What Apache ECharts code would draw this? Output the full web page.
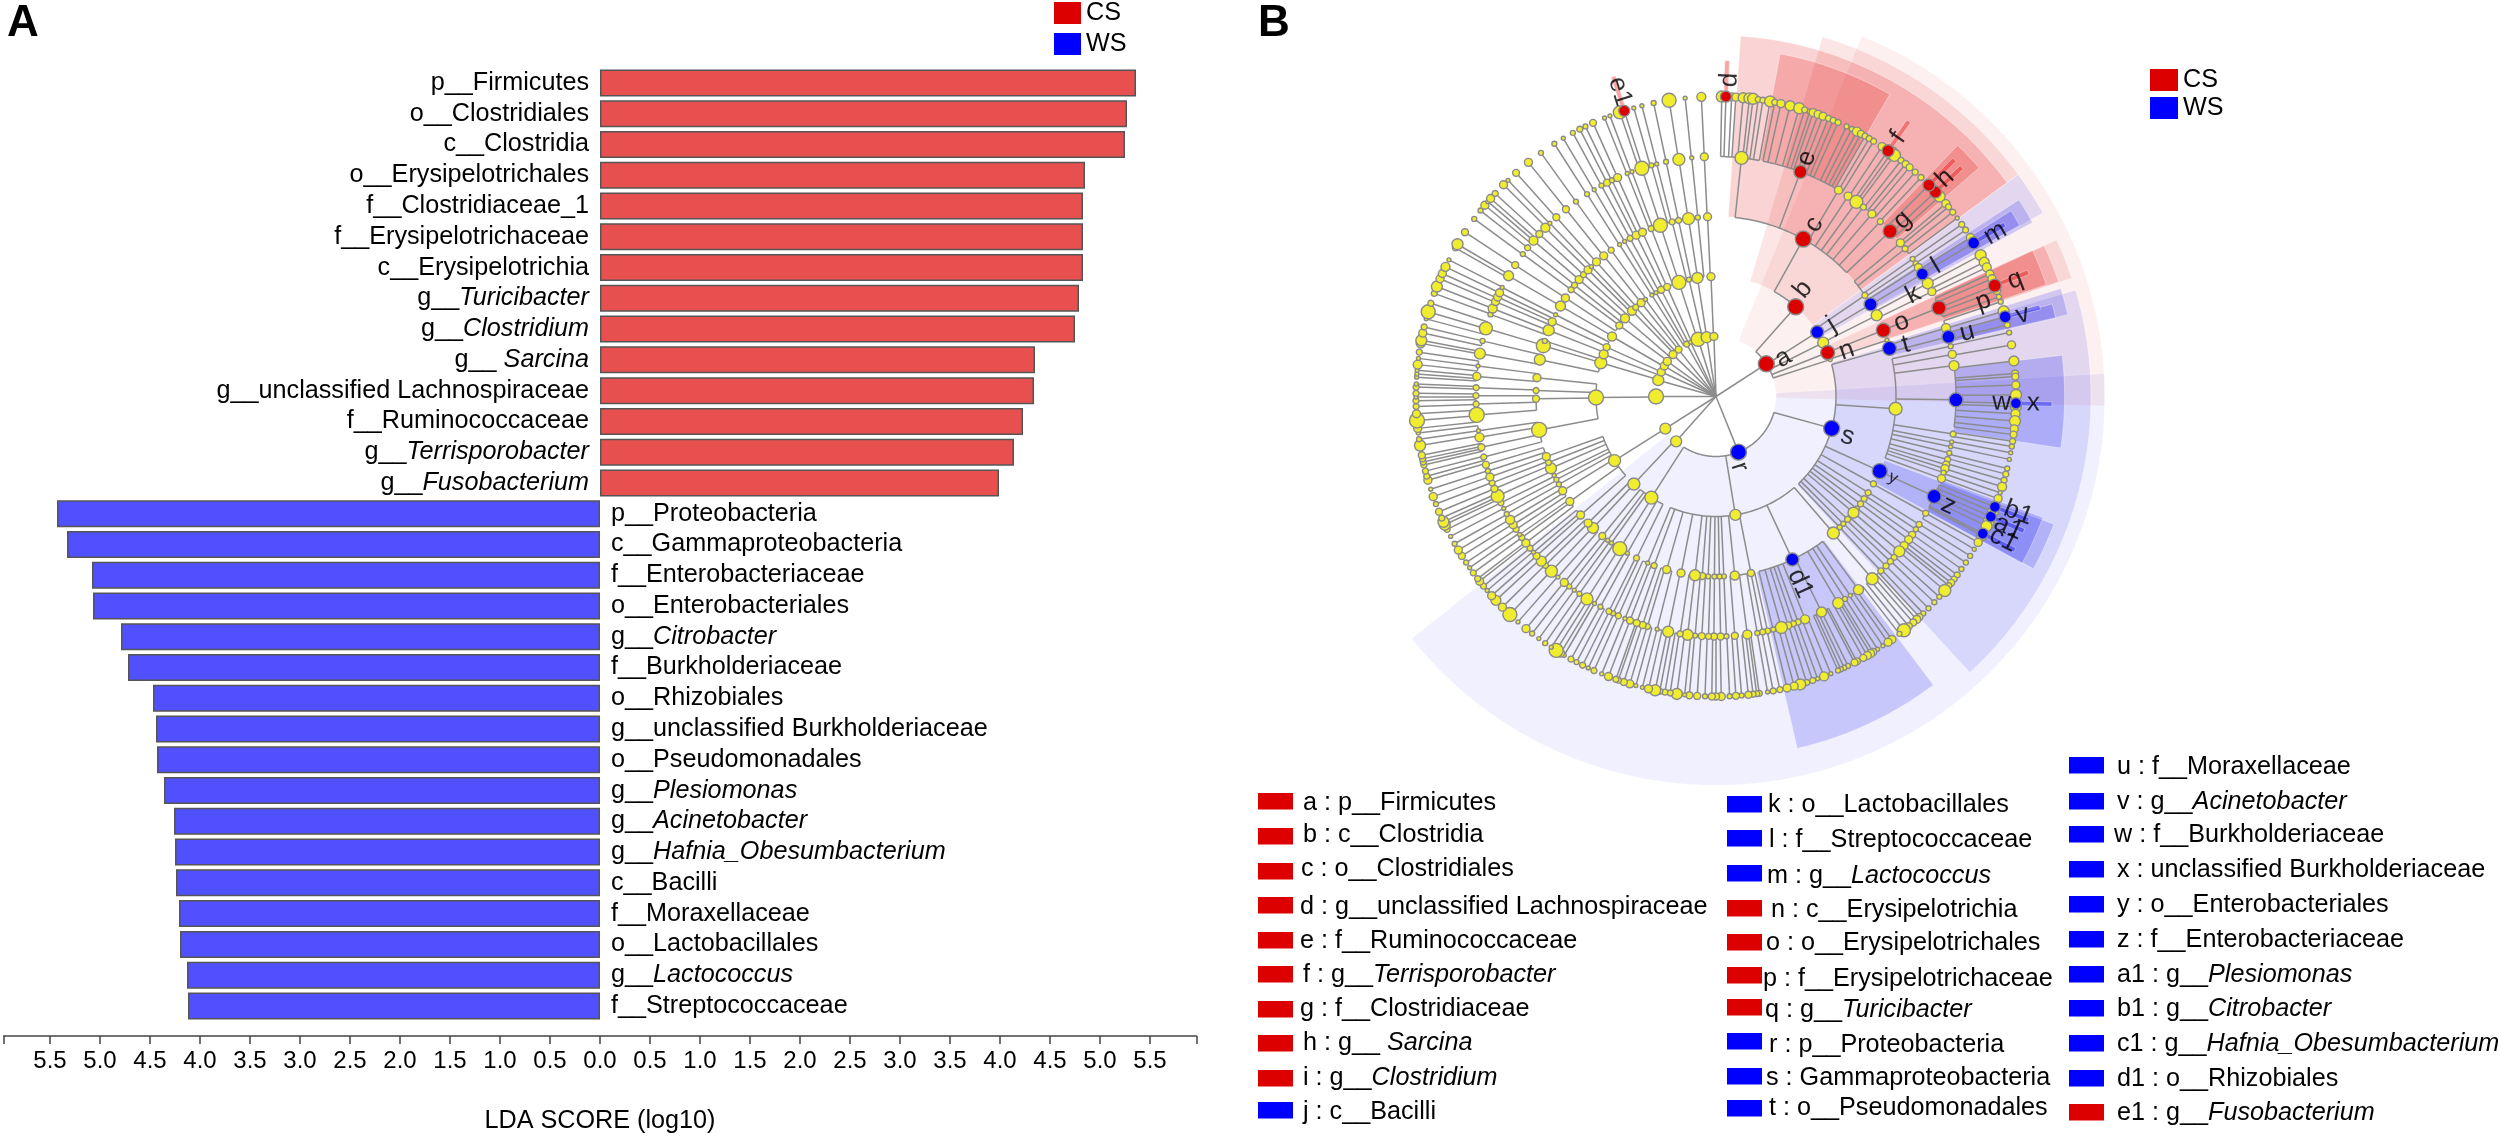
<!DOCTYPE html>
<html><head><meta charset="utf-8">
<style>html,body{margin:0;padding:0;background:#fff}#c{width:2500px;height:1139px}</style>
<script src="https://cdn.jsdelivr.net/npm/echarts@6/dist/echarts.min.js"></script>
</head><body><div id="c"></div>
<script>
// ---------- Panel A data ("|" starts the italic part of a name)
const csNames=['p__Firmicutes','o__Clostridiales','c__Clostridia','o__Erysipelotrichales','f__Clostridiaceae_1','f__Erysipelotrichaceae','c__Erysipelotrichia','g__|Turicibacter','g__|Clostridium','g__ |Sarcina','g__unclassified Lachnospiraceae','f__Ruminococcaceae','g__|Terrisporobacter','g__|Fusobacterium'];
const csValues=[5.36,5.27,5.25,4.85,4.83,4.83,4.83,4.79,4.75,4.35,4.34,4.23,4.14,3.99];
const wsNames=['p__Proteobacteria','c__Gammaproteobacteria','f__Enterobacteriaceae','o__Enterobacteriales','g__|Citrobacter','f__Burkholderiaceae','o__Rhizobiales','g__unclassified Burkholderiaceae','o__Pseudomonadales','g__|Plesiomonas','g__|Acinetobacter','g__|Hafnia_Obesumbacterium','c__Bacilli','f__Moraxellaceae','o__Lactobacillales','g__|Lactococcus','f__Streptococcaceae'];
const wsValues=[5.43,5.33,5.08,5.07,4.79,4.72,4.47,4.44,4.43,4.36,4.26,4.25,4.24,4.21,4.2,4.13,4.12];
const tickLabels=[-5.5,-5,-4.5,-4,-3.5,-3,-2.5,-2,-1.5,-1,-0.5,0,0.5,1,1.5,2,2.5,3,3.5,4,4.5,5,5.5];

// ---------- Panel B: yellow nodes per ring: [angle, size, optional child span from, to]
const ring1=[[221.6,11,222,224],[237.6,11,225,255],[270,15,256,279],[285.8,11],[294.1,8],[300.5,8],[305.8,8],[314.3,8],[321.4,7],[330.7,6],[335,4],[342.7,14],[351,11],[358,8]];
const ring2=[[63.3,11],[72.1,4],[170.7,11,140,203],[212.6,13,205,221],[223.2,12,222,227],[237.7,12,228,251],[269.5,15,258,278],[286.3,12],[290.6,9],[294.3,7],[300,9],[306.3,7],[310.7,9],[315.6,9],[318,6],[321.4,8],[324,4],[327.7,4],[330,4],[332.8,7],[336,7],[342,14],[347,5],[351.1,11],[357.6,8]];
const ring3=[[55.8,6,50,57],[63.2,11],[71.8,4],[93.9,13,77,110],[119,6],[122.3,6],[124.6,6],[126.6,6],[128.5,5],[130.2,11],[133,6],[135,5],[136.6,5],[139.3,12],[168.8,7,167.5,173],[174,9],[177.5,5],[178.9,5],[180.5,5],[182.5,5],[184.4,7],[186.7,11],[191.2,8],[195.9,8],[200.1,6],[202.3,4],[206.2,6],[209.5,4],[212.3,14],[215.5,4],[217,4],[219.2,7],[223.1,11],[225.3,8],[228.8,8],[234.3,8],[238.4,8],[240.8,5],[242.5,5],[244,4],[246.5,11],[248.5,6],[250.5,8],[259.3,15],[269.3,7],[271.9,6],[276,8],[281.8,11],[286.4,14],[288,5],[291.6,11],[294.5,8],[297,4],[300.2,10],[303.2,8],[306.4,6],[308.2,6],[310.5,8],[312.6,6],[314.7,8],[316.2,4],[318.4,8],[321.4,8],[324.4,6],[327.6,4],[329.5,4],[331.5,6],[333.7,8],[335.9,8],[338.9,6],[342,14],[345.9,6],[348,6],[351.2,12],[354.2,5],[357.3,8]];
const ring4=[[6.1,13,0.5,10.5],[30.7,8],[33.4,8],[35.8,13],[37.9,6],[40.5,8],[43.2,6],[50.2,8],[52,6],[55,5],[56.3,5],[57.5,8],[61.9,11],[64.1,8],[73.4,9,72,74.2],[77.9,5],[79.9,8],[82.6,10],[99,6],[100.9,4],[102.1,4],[103.6,5],[105.2,6],[106.5,7],[107.5,8],[108.5,5],[110,8],[119.1,6],[122.2,6],[123.6,5],[125.2,7],[126.6,8],[128.4,8],[130.2,11],[132.1,6],[133.4,6],[134.9,6],[136.6,6],[139.4,12],[143.6,10],[146,4],[147.5,5],[149.4,11],[153.9,10],[158.2,9],[160,6],[161.2,6],[162.5,7],[164.2,12],[166.2,5],[167.6,6],[168.8,6],[170.1,5],[172.5,9],[175.5,7],[177.5,5],[178.9,7],[180.5,7],[181.8,6],[183.4,7],[185,5],[186.8,11],[188.6,6],[191.5,11],[194.2,4],[196.6,6],[197.8,7],[199.3,7],[201,7],[202.3,4],[204,6],[205.4,5],[206.5,6],[208.8,5],[210.4,4],[212.5,12],[214.7,5],[216.2,4],[217.7,5],[219.2,8],[221.2,4],[223.3,12],[225.3,6],[226.7,10],[228.4,7],[229.5,4],[230.8,6],[232.4,8],[234,6],[234.9,4],[236.4,6],[237.7,8],[239.1,9],[240.7,5],[242.2,4],[243.7,6],[245.5,13],[247.4,7],[248.9,6],[250.4,8],[251.9,5],[253.5,7],[255.4,6],[257.8,7],[260.2,9],[261.8,4],[265.6,15],[268.2,6],[270.2,6],[272.1,6],[274.8,8],[277.3,4],[280.3,11],[283.4,5],[286.5,13],[290,5],[291.5,9],[293.3,8],[294.5,8],[295.6,8],[297,4],[300.2,10],[303.2,7],[306.4,5],[308.3,6],[310.5,9],[312.6,7],[314.7,9],[316.2,4],[318.3,7],[321.3,7],[324.3,5],[327.5,5],[329.5,4],[331.5,5],[333,7],[334.3,5],[335.8,8],[338.3,4],[339.5,4],[342,14],[344.4,5],[345.7,4],[348,5],[351.1,12],[354.2,4],[357.2,8]];
const ring5=[[1.1,11],[3,8],[3.8,8],[5.2,10],[6.4,11],[7.1,11],[8.1,6],[9,6],[10.4,11],[11.3,6],[12.5,8],[14.3,10],[16.1,11],[17.2,6],[18.2,5],[18.9,8],[19.9,8],[20.9,8],[22,6],[23,6],[24,6],[25.8,5],[26.9,5],[28,9],[28.9,7],[29.8,6],[30.7,6],[31.7,6],[33.6,8],[35.8,13],[36.5,12],[38.1,6],[39.2,7],[40.2,7],[41.6,6],[43.1,6],[48.2,11],[50,8],[50.8,6],[52.1,6],[53.5,4],[55,6],[56.3,6],[58,8],[61.9,11],[63.4,10],[64.5,9],[65.9,8],[66.9,8],[69.3,8],[70.6,5],[71.6,5],[73.5,11],[76.2,6],[77.7,5],[80.1,8],[83.2,10],[85.6,7],[86.2,7],[87.8,8],[89.7,11],[91.9,11],[93.3,9],[94.7,11],[96.2,8],[97.3,7],[98.6,6],[99.6,5],[100.8,4],[102.1,4],[103.9,5],[105,6],[106.2,6],[107.5,9],[108.7,4],[109.9,8],[112.6,11],[114.6,11],[115.6,11],[117.6,11],[119.1,8],[120.6,4],[122.1,5],[123.6,5],[125.1,5],[126.5,6],[127.5,6],[128.4,7],[129.1,6],[130.3,12],[131.9,5],[133.3,5],[134.9,5],[136.3,5],[137.3,7],[138,8],[138.9,7],[140,7],[141.2,13],[142.3,5],[144.1,8],[145,8],[146.2,4],[147.4,4],[148.4,7],[149,8],[149.7,8],[150.6,7],[152,7],[152.5,7],[153.9,5],[154.7,5],[155.4,5],[156,5],[157.5,4],[158.9,9],[160.2,4],[161.2,6],[162.4,6],[163.7,11],[164.9,8],[166.3,8],[167.7,6],[169,6],[170.1,4],[171.7,6],[172.2,6],[172.9,6],[173.8,7],[175.1,5],[176.2,7],[177.4,5],[179,8],[180,7],[180.8,7],[182.1,5],[183.6,7],[185.1,7],[186,4],[187.5,11],[188.8,6],[189.8,6],[190.8,6],[191.7,11],[193,8],[194.2,4],[195.5,4],[196.7,8],[197.9,7],[199,6],[199.5,6],[201,8],[202.4,4],[204,6],[205.2,4],[206.4,6],[207.7,5],[208.9,6],[210.4,4],[211.2,8],[212.2,14],[213.3,4],[214.7,5],[216.2,4],[217.8,5],[219.3,8],[221.3,4],[223.4,14],[225.4,8],[227.2,10],[228.4,8],[229.7,4],[230.8,6],[232,8],[232.6,6],[234,6],[235.2,4],[236.4,5],[237.9,7],[239.2,8],[240.6,5],[242.2,4],[243.7,6],[244.7,11],[245.3,11],[246.1,6],[247.4,7],[249,5],[250.5,8],[252,4],[253.8,8],[254.6,6],[255.6,6],[256.8,6],[257.4,6],[258,6],[258.7,7],[260.6,11],[261.8,5],[263,4],[263.9,8],[265.4,15],[266.7,8],[268.1,6],[269.2,6],[269.9,4],[270.6,6],[271.8,6],[272.4,4],[273.7,4],[274.3,4],[275,4],[276.1,9],[277.3,4],[278.5,6],[280.2,9],[280.8,11],[282.2,8],[283.4,6],[285,4],[286.4,14],[288.1,6],[290.1,6],[291.5,11],[293.1,8],[294.2,8],[295.6,9],[297.1,4],[299.7,6],[300.5,11],[303.2,7],[306.3,5],[308.3,5],[309.6,8],[310.5,4],[311.3,8],[312.6,6],[314.9,8],[316.1,4],[318.2,7],[321.3,8],[324.3,5],[327.4,5],[329.4,4],[331.5,5],[333,6],[334.2,5],[335.8,7],[338.2,4],[339.3,4],[341.3,13],[344.1,4],[345.7,4],[348,5],[351,14],[354.1,4],[357.2,9]];

// ---------- Panel B: biomarkers
const bioKeys =['a','b','c','d','e','f','g','h','i','j','k','l','m','n','o','p','q','r','s','t','u','v','w','x','y','z','a1','b1','c1','d1','e1'];
const bioClass=['CS','CS','CS','CS','CS','CS','CS','CS','CS','WS','WS','WS','WS','CS','CS','CS','CS','WS','WS','WS','WS','WS','WS','WS','WS','WS','WS','WS','WS','WS','CS'];
const bioRing =[1,2,3,5,4,5,4,5,5,2,3,4,5,2,3,4,5,1,2,3,4,5,4,5,3,4,5,5,5,3,5];
const bioAngle=[57,41.6,29,1.9,20.6,35,46.5,47,45.2,57.5,59.2,59.3,59.2,68.5,68.4,68.3,68.3,158,105.4,74.5,75.6,74.6,90.8,91.3,114.5,114.6,113.6,111.6,117.2,154.9,342.2];
const bioFrom =[22,16.5,3.9,1.5,10.6,34.6,43.9,46.6,44.8,53.7,57,57.8,58.8,65.3,65.3,65.2,67.9,86.6,73.5,72.6,74.6,74.2,83.2,90.9,110.7,110.3,113.2,111.2,116.8,143,341.8];
const bioTo   =[91.4,53.7,53.7,2.3,29.9,35.4,49,47.4,45.6,60.7,61.2,60.6,59.6,71.6,71.5,71.3,68.7,231.5,137.4,76.9,77,75,98.5,91.7,118.5,118.6,114,112,117.6,167,342.6];
const bioSize =[16,16,16,11,13,12,14,12,12,13,13,12,12,14,14,14,13,16,16,14,13,12,14,11,15,14,11,11,11,13,11];
const labelRing =[1.29,2.3,3.3,5.28,4.25,5.28,4.28,5.27,null,2.27,3.7,4.26,5.39,2.31,3.33,4.73,5.35,1.24,2.29,3.28,4.32,5.29,4.76,5.29,3.25,4.28,5.34,5.4,5.35,3.42,5.33];
const labelAngle=[60.3,39.1,29.7,2.4,20.8,35.1,46.6,46.4,null,58.2,62.7,59.4,59.7,70.6,68.2,70.4,68.7,161.7,106.9,74.8,75.7,75.1,91.2,91.2,114.7,115.1,114.1,111.1,116.5,155.8,342.5];

// ---------- Panel B key table
const keyCol1=['a : p__Firmicutes','b : c__Clostridia','c : o__Clostridiales','d : g__unclassified Lachnospiraceae','e : f__Ruminococcaceae','f : g__|Terrisporobacter','g : f__Clostridiaceae','h : g__ |Sarcina','i : g__|Clostridium','j : c__Bacilli'];
const keyCol2=['k : o__Lactobacillales','l : f__Streptococcaceae','m : g__|Lactococcus','n : c__Erysipelotrichia','o : o__Erysipelotrichales','p : f__Erysipelotrichaceae','q : g__|Turicibacter','r : p__Proteobacteria','s : Gammaproteobacteria','t : o__Pseudomonadales'];
const keyCol3=['u : f__Moraxellaceae','v : g__|Acinetobacter','w : f__Burkholderiaceae','x : unclassified Burkholderiaceae','y : o__Enterobacteriales','z : f__Enterobacteriaceae','a1 : g__|Plesiomonas','b1 : g__|Citrobacter','c1 : g__|Hafnia_Obesumbacterium','d1 : o__Rhizobiales','e1 : g__|Fusobacterium'];
const keyClass1=['CS','CS','CS','CS','CS','CS','CS','CS','CS','WS'];
const keyClass2=['WS','WS','WS','CS','CS','CS','CS','WS','WS','WS'];
const keyClass3=['WS','WS','WS','WS','WS','WS','WS','WS','WS','WS','CS'];

// ---------- layout and style (not data)
const FONT='"Liberation Sans",Arial,sans-serif';
const TEXT_SIZE=25.2;
const COLORS={CS:'#DC0000',WS:'#0000FF'};
const layoutCols=[
 {x:1258,tx:[1303,1303,1301,1300,1300,1303,1300,1303,1303,1303],sy:[793,828,863,897,932,966,1001,1035,1070,1102],ty:[803,835,869,907,941,975,1009,1043,1078,1112],keys:keyCol1,cls:keyClass1},
 {x:1727,tx:[1768,1769,1767,1771,1766,1763,1765,1769,1766,1769],sy:[796,830,865,900,934,967,999,1033,1068,1100],ty:[805,840,876,910,943,979,1010,1045,1078,1108],keys:keyCol2,cls:keyClass2},
 {x:2069,tx:[2117,2117,2114,2117,2117,2117,2117,2117,2117,2117,2117],sy:[757,793,826,861,896,931,966,1000,1035,1070,1104],ty:[767,802,835,870,905,940,975,1009,1044,1079,1113],keys:keyCol3,cls:keyClass3}];
const ringOuter={1:6.48,2:6.25,3:6.02,4:5.81,5:5.6};
const ringAlpha={1:.058,2:.1,3:.17,4:.2,5:.35};
const rgb={CS:'225,0,0',WS:'0,0,240'};

function richText(s){const p=s.split('|');return p.length>1?`{n|${p[0]}}{i|${p[1]}}`:`{n|${p[0]}}`;}
const richStyle=size=>({n:{fontFamily:FONT,fontSize:size,color:'#000'},i:{fontFamily:FONT,fontSize:size,fontStyle:'italic',color:'#000'}});

// ---------- bars
const cats=csNames.concat(wsNames);
const csData=cats.map((c,i)=>i<csValues.length?csValues[i]:null);
const wsData=cats.map((c,i)=>i>=csValues.length?-wsValues[i-csValues.length]:null);
const barSeries=(name,data,color,pos,dist)=>({name,type:'bar',xAxisIndex:0,yAxisIndex:0,data,barWidth:27,barGap:'-100%',
 itemStyle:{color,borderColor:'#555',borderWidth:1.5},animation:false,
 label:{show:true,position:pos,distance:dist,rich:richStyle(TEXT_SIZE),formatter:p=>richText(p.name)}});

// ---------- tree
const nodes={1:[],2:[],3:[],4:[],5:[]};
[ring1,ring2,ring3,ring4,ring5].forEach((ring,i)=>ring.forEach(n=>nodes[i+1].push({a:n[0],size:n[1],from:n[2],to:n[3]})));
bioKeys.forEach((k,i)=>nodes[bioRing[i]].push({a:bioAngle[i],size:bioSize[i],from:bioFrom[i],to:bioTo[i],bio:1}));
const cdist=(x,y)=>Math.abs(((x-y+540)%360)-180);
const edges=[],arcs=[];
nodes[1].forEach(n=>edges.push([0,n.a,1,n.a]));
for(let L=2;L<=5;L++){
 const parents=nodes[L-1];
 parents.forEach(p=>{p.lo=0;p.hi=0;});
 nodes[L].forEach(c=>{
  let par=parents.find(p=>!p.bio&&p.from!==undefined&&c.a>=p.from&&c.a<=p.to)
   ||parents.find(p=>p.bio&&c.a>=p.from&&c.a<=p.to);
  if(!par)par=parents.reduce((b,p)=>cdist(p.a,c.a)<cdist(b.a,c.a)?p:b);
  const d=((c.a-par.a+540)%360)-180;
  par.lo=Math.min(par.lo,d);par.hi=Math.max(par.hi,d);
  edges.push([L-1,c.a,L,c.a]);
 });
 parents.forEach(p=>{if(p.hi-p.lo>0)arcs.push([L-1,p.a+p.lo,p.a+p.hi]);});
}
const yellowData=[];
for(let L=1;L<=5;L++)nodes[L].filter(n=>!n.bio).forEach(n=>yellowData.push([L,n.a,n.size]));
const bioData=bioKeys.map((k,i)=>({value:[bioRing[i],bioAngle[i],bioSize[i]],itemStyle:{color:COLORS[bioClass[i]]}}));
const labelData=bioKeys.map((k,i)=>labelRing[i]==null?null:({value:[labelRing[i],labelAngle[i]],name:k,
  label:{rotate:(labelAngle[i]<180?90-labelAngle[i]:270-labelAngle[i]),fontSize:k==='y'?17:26}})).filter(Boolean);
const sectorOrder=bioKeys.map((k,i)=>i).sort((x,y)=>bioRing[x]-bioRing[y]);
const sectorData=sectorOrder.map(i=>[bioRing[i],ringOuter[bioRing[i]],bioFrom[i],bioTo[i]]);

function arcPts(api,r,a0,a1){const n=Math.max(1,Math.ceil((a1-a0)/0.75)),pts=[];for(let j=0;j<=n;j++)pts.push(api.coord([r,a0+(a1-a0)*j/n]));return pts;}

const graphics=[];
layoutCols.forEach(col=>{
 col.keys.forEach((t,i)=>{
  graphics.push({type:'rect',left:col.x,top:col.sy[i],shape:{width:35,height:16.5},style:{fill:COLORS[col.cls[i]]},silent:true});
  graphics.push({type:'text',x:col.tx[i],y:col.ty[i],silent:true,style:{text:richText(t),rich:richStyle(TEXT_SIZE),verticalAlign:'middle',align:'left'}});
 });
});

const chart=echarts.init(document.getElementById('c'),null,{renderer:'canvas'});
const legendData=[{name:'CS',itemStyle:{color:COLORS.CS,borderWidth:0}},{name:'WS',itemStyle:{color:COLORS.WS,borderWidth:0}}];
chart.setOption({
 animation:false,backgroundColor:'#fff',
 title:[{text:'A',left:2,top:-3,textStyle:{fontFamily:FONT,fontSize:44,fontWeight:'bold',color:'#000'}},
        {text:'B',left:1253,top:-3,textStyle:{fontFamily:FONT,fontSize:44,fontWeight:'bold',color:'#000'}}],
 legend:[
  {orient:'vertical',left:1054,top:0.5,padding:0,icon:'rect',itemWidth:27,itemHeight:22,itemGap:6,selectedMode:false,textStyle:{fontFamily:FONT,fontSize:TEXT_SIZE,color:'#000'},data:legendData},
  {orient:'vertical',left:2150,top:67.5,padding:0,icon:'rect',itemWidth:28,itemHeight:22,itemGap:3,selectedMode:false,textStyle:{fontFamily:FONT,fontSize:TEXT_SIZE,color:'#000'},data:legendData}],
 grid:{left:3.6,width:1192.8,top:67.6,height:955},
 xAxis:{type:'value',min:-5.964,max:5.964,position:'bottom',offset:14.7,splitLine:{show:false},
  name:'LDA SCORE (log10)',nameLocation:'middle',nameGap:73,nameTextStyle:{fontFamily:FONT,fontSize:TEXT_SIZE,color:'#000'},
  axisLine:{show:true,onZero:false,lineStyle:{color:'#444',width:1.5}},
  axisTick:{show:true,length:8,lineStyle:{color:'#444',width:1.5},customValues:[-5.964].concat(tickLabels,[5.964])},
  axisLabel:{fontFamily:FONT,fontSize:24,color:'#000',margin:13,customValues:tickLabels,formatter:v=>Math.abs(v).toFixed(1)}},
 yAxis:{type:'category',inverse:true,data:cats,show:false},
 polar:{center:[1716,396.5],radius:[0,390]},
 radiusAxis:{type:'value',min:0,max:6.5,show:false},
 angleAxis:{type:'value',min:0,max:360,startAngle:90,clockwise:true,show:false},
 graphic:graphics,
 series:[
  barSeries('CS',csData,'#E85050','left',11),
  barSeries('WS',wsData,'#5050FF','right',11),
  {type:'custom',name:'sectors',coordinateSystem:'polar',data:sectorData,z:1,clip:false,silent:true,
   renderItem(params,api){
    const r0=api.value(0),r1=api.value(1),a0=api.value(2),a1=api.value(3);
    const pts=arcPts(api,r0,a0,a1).concat(arcPts(api,r1,a0,a1).reverse());
    const i=sectorOrder[params.dataIndex];
    return {type:'polygon',shape:{points:pts},style:{fill:`rgba(${rgb[bioClass[i]]},${ringAlpha[bioRing[i]]})`,stroke:'rgba(255,255,255,.35)',lineWidth:1}};
   }},
  {type:'custom',name:'branches',coordinateSystem:'polar',data:edges,z:2,clip:false,silent:true,
   renderItem(params,api){
    const p=api.coord([api.value(0),api.value(1)]),q=api.coord([api.value(2),api.value(3)]);
    return {type:'line',shape:{x1:p[0],y1:p[1],x2:q[0],y2:q[1]},style:{stroke:'#8c8c8c',lineWidth:1.5,fill:null}};
   }},
  {type:'custom',name:'arcs',coordinateSystem:'polar',data:arcs,z:2,clip:false,silent:true,
   renderItem(params,api){
    return {type:'polyline',shape:{points:arcPts(api,api.value(0),api.value(1),api.value(2))},style:{stroke:'#8c8c8c',lineWidth:1.5,fill:null}};
   }},
  {type:'scatter',name:'nodes',coordinateSystem:'polar',data:yellowData,z:3,silent:true,symbolSize:v=>v[2],
   itemStyle:{color:'#F0EC2E',borderColor:'#8a8a8a',borderWidth:1.4,opacity:1}},
  {type:'scatter',name:'biomarkers',coordinateSystem:'polar',data:bioData,z:4,silent:true,symbolSize:v=>v[2],
   itemStyle:{borderColor:'#8a8a8a',borderWidth:1.4,opacity:1}},
  {type:'scatter',name:'labels',coordinateSystem:'polar',data:labelData,z:5,silent:true,symbolSize:0,
   label:{show:true,position:'inside',fontFamily:FONT,color:'#000',formatter:p=>p.name}}
 ]
});
</script></body></html>
